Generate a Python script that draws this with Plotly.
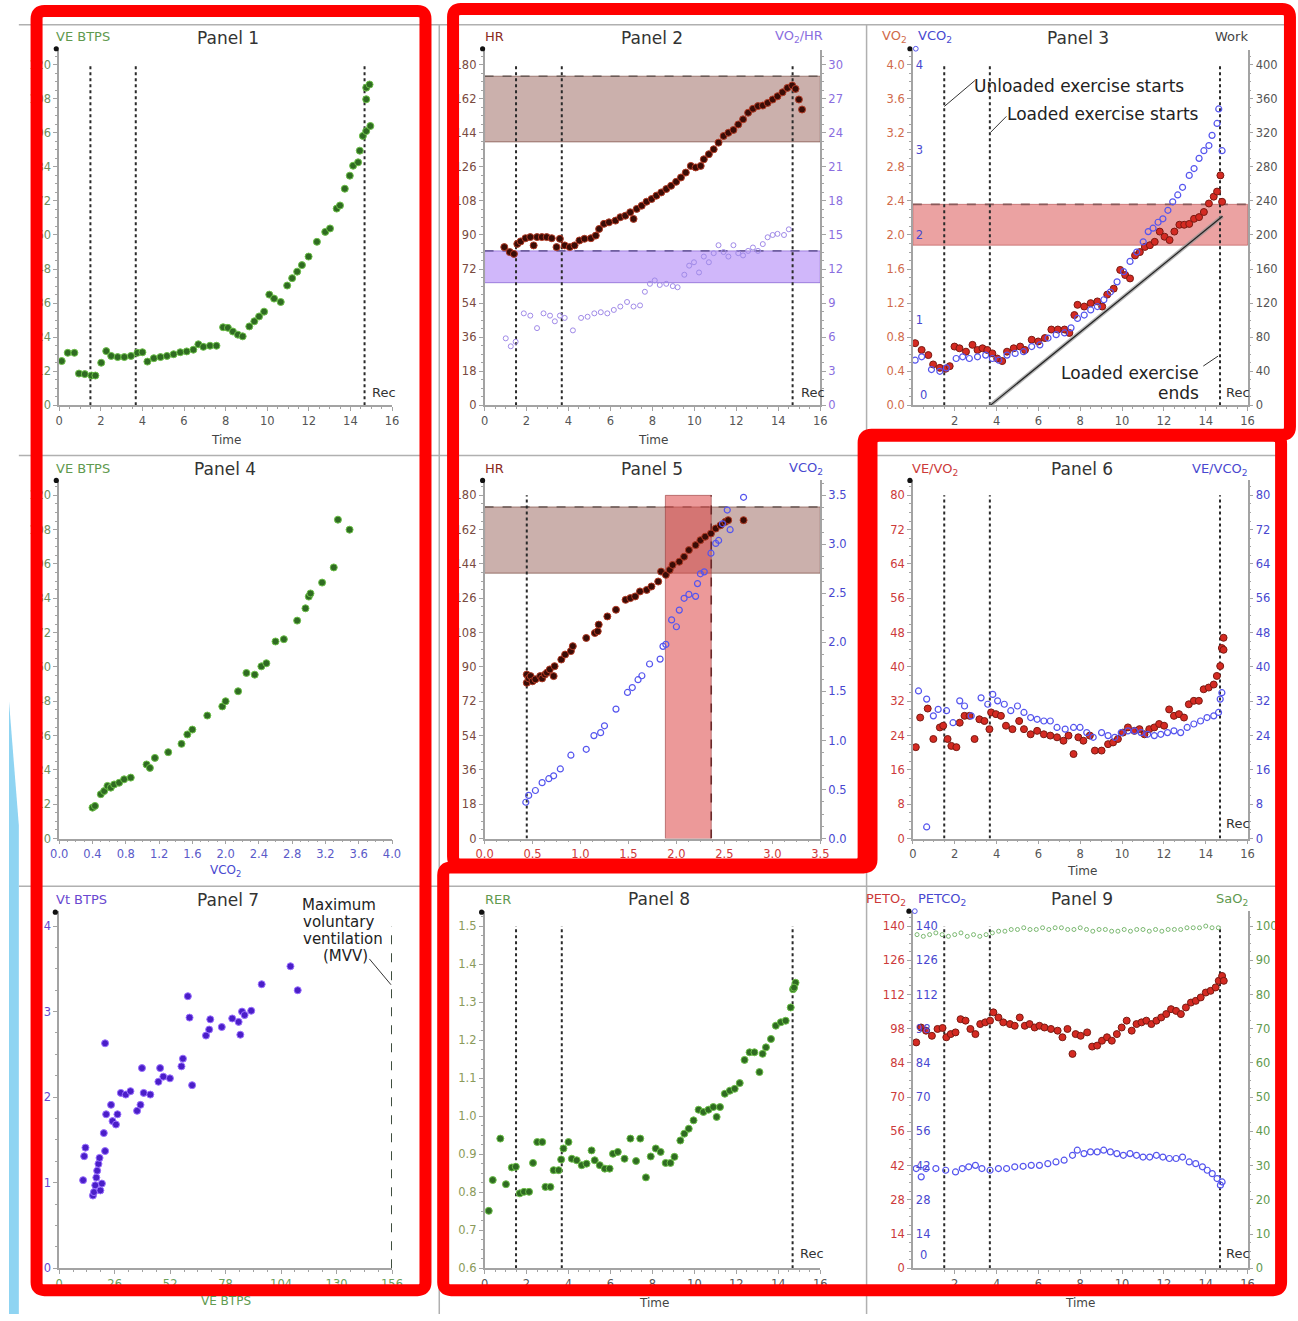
import plotly.graph_objects as go

W, H = 1298, 1321

# ---------------- data ----------------
t_ticks = [0, 2, 4, 6, 8, 10, 12, 14, 16]
ve_ticks = [0, 12, 24, 36, 48, 60, 72, 84, 96, 108, 120]
hr_ticks = [0, 18, 36, 54, 72, 90, 108, 126, 144, 162, 180]
vohr_ticks = [0, 3, 6, 9, 12, 15, 18, 21, 24, 27, 30]
vo2_ticks = [0.0, 0.4, 0.8, 1.2, 1.6, 2.0, 2.4, 2.8, 3.2, 3.6, 4.0]
vco2_int_ticks = [1, 2, 3, 4]
work_ticks = [0, 40, 80, 120, 160, 200, 240, 280, 320, 360, 400]
vco2_x_ticks = [0.0, 0.4, 0.8, 1.2, 1.6, 2.0, 2.4, 2.8, 3.2, 3.6, 4.0]
half_ticks = [0.0, 0.5, 1.0, 1.5, 2.0, 2.5, 3.0, 3.5]
ratio_ticks = [0, 8, 16, 24, 32, 40, 48, 56, 64, 72, 80]
vt_ticks = [0, 1, 2, 3, 4]
vex_ticks = [0, 26, 52, 78, 104, 130, 156]
rer_ticks = [0.6, 0.7, 0.8, 0.9, 1.0, 1.1, 1.2, 1.3, 1.4, 1.5]
pet_ticks = [0, 14, 28, 42, 56, 70, 84, 98, 112, 126, 140]
petco2_inner_ticks = [14, 28, 42, 56, 70, 84, 98, 112, 126, 140]
sao2_ticks = [0, 10, 20, 30, 40, 50, 60, 70, 80, 90, 100]

phase_times = [1.5, 3.68, 14.68]   # unloaded start, loaded start, loaded end

# Panel 1: VE vs time
p1_t = [0.12,0.41,0.73,0.95,1.23,1.55,1.74,2.02,2.26,2.5,2.81,3.13,3.45,3.76,4.0,4.24,4.55,4.87,5.18,5.5,
        5.82,6.13,6.45,6.69,6.93,7.25,7.56,7.88,8.11,8.35,8.59,8.82,9.14,9.38,9.61,9.85,10.1,10.33,10.65,10.96,
        11.2,11.44,11.67,11.99,12.39,12.79,13.02,13.34,13.5,13.73,13.97,14.13,14.37,14.45,14.6,14.76,14.96,14.76,14.76,14.92]
p1_ve = [15.6,18.5,18.5,11.2,11,10.5,10.5,15,19.1,17.4,17,17,17.4,18.5,18.7,15.4,16.6,17,17.4,18,
         18.7,19,19.6,21.5,20.6,21,21,27.5,27.3,26,24.9,24.3,27.8,29.6,31.3,33,39,37.6,36.4,42.2,
         44.8,47.1,49.4,52.4,57.6,61.1,62.3,69.3,70.4,76.3,80.9,84.4,85.6,89.7,94.9,96.6,98.4,107.8,111.9,113]

# Panel 2: HR and VO2/HR vs time
p2_t = [0.94,1.2,1.4,1.56,1.72,1.95,2.18,2.34,2.5,2.73,2.96,3.2,3.43,3.59,3.82,4.06,4.29,4.52,4.76,5.07,
        5.3,5.46,5.69,5.93,6.24,6.47,6.71,6.94,7.1,7.25,7.49,7.72,7.96,8.19,8.42,8.66,8.89,9.13,9.36,9.59,
        9.83,10.06,10.3,10.45,10.69,10.92,11.15,11.39,11.62,11.86,12.09,12.32,12.56,12.79,13.03,13.26,13.49,13.73,13.96,14.2,
        14.43,14.66,14.82,14.98,15.13]
p2_hr = [83.6,81,80,85.3,86.6,88.3,88.9,84.5,88.9,88.9,88.9,88.3,83.6,88,84.5,83.6,84.5,87.1,88,88.3,
         89.7,93.2,95.9,96.7,97.6,99.4,100.2,102,98.5,103.8,105.5,107.6,109,110.8,112.5,114.3,116,118.1,120.4,123,
         126.5,125.7,126.5,130,132.7,135.3,138.8,142.3,144,145.5,148.4,151.1,154.6,156.7,158.1,158.4,159.8,161.6,163.3,165.4,
         167.7,169,167.2,161.6,156.3]
p2_vt = [1.01,1.25,1.48,1.87,2.18,2.5,2.81,3.12,3.35,3.59,3.82,4.21,4.6,4.91,5.23,5.54,5.85,6.16,6.47,6.79,
         7.1,7.41,7.64,7.88,8.11,8.35,8.66,8.97,9.2,9.52,9.75,9.98,10.22,10.45,10.69,10.92,11.15,11.39,11.62,11.86,
         12.09,12.32,12.56,12.79,13.03,13.26,13.49,13.73,13.96,14.27,14.5]
p2_vohr = [5.9,5.2,5.6,8.1,7.9,6.8,8.1,7.9,7.4,7.9,7.7,6.6,7.7,7.8,8.1,8.2,8.1,8.4,8.7,9.1,
           8.7,8.8,10,10.7,11,10.6,10.7,10.5,10.4,11.5,12.3,12.6,11.7,13.1,12.6,13.4,14.1,13.5,13.1,14.1,
           13.4,13.2,13.6,13.9,13.6,14.2,14.8,15,15.1,15,15.5]
hr_band = [139.2, 173.9]
vohr_band = [10.8, 13.6]

# Panel 3: VO2, VCO2, Work vs time
p3_t = [0.11,0.42,0.74,0.97,1.29,1.57,1.76,1.99,2.23,2.54,2.85,3.09,3.33,3.56,3.8,4.03,4.27,4.5,4.82,5.13,
        5.36,5.68,5.99,6.31,6.62,6.93,7.25,7.48,7.72,7.87,8.19,8.5,8.82,9.05,9.29,9.6,9.91,10.15,10.38,10.62,
        10.85,11.09,11.33,11.56,11.8,12.03,12.27,12.5,12.74,12.97,13.21,13.44,13.68,13.91,14.15,14.38,14.54,14.7,14.78]
p3_vo2 = [0.73,0.65,0.59,0.48,0.44,0.43,0.46,0.69,0.67,0.63,0.71,0.65,0.67,0.65,0.61,0.55,0.52,0.63,0.67,0.69,
          0.65,0.77,0.75,0.79,0.89,0.89,0.89,0.85,1.06,1.18,1.16,1.2,1.22,1.16,1.3,1.37,1.59,1.53,1.49,1.76,
          1.8,1.86,1.88,1.92,2.04,1.98,1.94,2.04,2.12,2.12,2.13,2.19,2.21,2.27,2.37,2.45,2.51,2.7,2.39]
p3_ct = [0.11,0.42,0.89,1.29,1.6,2.07,2.38,2.7,3.09,3.48,3.8,4.11,4.5,4.89,5.29,5.68,6.07,6.46,6.85,7.25,
         7.56,7.87,8.19,8.5,8.82,9.13,9.44,9.76,10.07,10.38,10.7,11.01,11.25,11.48,11.72,11.95,12.19,12.42,12.66,12.89,
         13.21,13.44,13.68,13.91,14.15,14.3,14.54,14.62,14.78]
p3_vco2 = [0.53,0.57,0.42,0.40,0.44,0.55,0.57,0.55,0.57,0.59,0.55,0.53,0.59,0.61,0.63,0.69,0.71,0.79,0.83,0.85,
           0.91,1.02,1.06,1.12,1.16,1.24,1.33,1.45,1.57,1.69,1.8,1.92,2.04,2.08,2.15,2.19,2.29,2.39,2.47,2.56,
           2.7,2.78,2.9,2.99,3.05,3.17,3.31,3.48,2.99]
p3_work_t = [3.7, 14.8]
p3_work = [0, 222]
vo2_band = [1.88, 2.36]

# Panel 4: VE vs VCO2
p4_vco2 = [0.40,0.43,0.50,0.54,0.58,0.62,0.66,0.72,0.78,0.86,1.05,1.09,1.15,1.31,1.47,1.54,1.6,1.78,1.96,2.0,
           2.15,2.25,2.35,2.43,2.49,2.6,2.7,2.86,2.96,3.0,3.02,3.16,3.3,3.35,3.49]
p4_ve = [10.8,11.4,15.5,16.6,18.4,17.8,18.9,19.5,20.7,21.3,25.9,24.7,28.2,30.2,33.1,36.4,38.1,43,46.2,48,
         51.5,57.9,57.3,60.2,61.3,68.9,69.7,76.2,80.5,84.6,85.7,89.5,94.8,111.5,108]

# Panel 5: HR and VCO2 vs VO2
p5_vo2 = [0.44,0.44,0.46,0.48,0.5,0.53,0.58,0.6,0.63,0.65,0.68,0.72,0.73,0.80,0.84,0.9,0.92,1.06,1.15,1.18,
          1.19,1.28,1.37,1.47,1.52,1.57,1.62,1.69,1.74,1.81,1.84,1.89,1.93,1.96,2.03,2.08,2.13,2.2,2.25,2.3,
          2.36,2.41,2.46,2.51,2.54,2.7]
p5_hr = [81.7,86,84,85.2,82.5,83.5,85.2,84,86,87,88.7,85.2,90.4,93.9,96.5,98.3,100.9,105.2,107.8,108.7,
         112.2,116.5,120,125.2,126.1,127,129.6,130.4,132.2,134.8,140,138.3,140.9,143.5,145.2,147.8,151.3,153.9,156.5,158.3,
         160,162.6,164.3,166.1,167,167]
p5_cvo2 = [0.43,0.46,0.53,0.6,0.67,0.72,0.79,0.9,1.06,1.14,1.21,1.25,1.37,1.49,1.54,1.6,1.64,1.72,1.83,1.86,
           1.89,1.95,2.0,2.03,2.08,2.13,2.2,2.22,2.25,2.29,2.36,2.41,2.44,2.48,2.53,2.56,2.7]
p5_vco2 = [0.37,0.44,0.49,0.57,0.61,0.64,0.71,0.85,0.91,1.05,1.08,1.15,1.32,1.49,1.54,1.62,1.66,1.78,1.83,1.96,
           1.98,2.23,2.16,2.33,2.45,2.49,2.47,2.6,2.7,2.72,2.91,3.01,3.04,3.21,3.35,3.15,3.48]
p5_vo2_band = [1.885, 2.363]
p5_start_vo2 = [0.44]

# Panel 6: VE/VO2 and VE/VCO2 vs time
p6_t = [0.14,0.35,0.71,0.98,1.29,1.45,1.66,1.84,2.08,2.24,2.47,2.71,2.95,3.18,3.42,3.66,3.74,3.97,4.21,4.45,
        4.76,5.08,5.31,5.63,5.94,6.26,6.57,6.89,7.2,7.44,7.68,7.91,8.15,8.46,8.7,9.02,9.33,9.57,9.8,10.04,
        10.28,10.59,10.83,11.07,11.3,11.54,11.77,12.01,12.25,12.48,12.72,12.96,13.19,13.43,13.67,13.9,14.14,14.38,14.53,14.69,
        14.77,14.85,14.85]
p6_vevo2 = [21.3,28.2,30.3,23.2,25.9,26.3,23.2,21.6,21.3,27,28.6,28.6,23.2,27.8,27.4,25.5,29.4,29,28.6,26.3,
            25.5,27.4,25.5,24.3,25.1,24.3,24,23.6,22.8,24,19.7,23.6,22.8,24,20.5,20.5,22,22.4,23.2,24.7,
            25.9,25.1,25.5,24.3,25.5,25.9,26.7,26.3,30.1,28.6,29,28.2,31.3,32.1,32.1,34.8,35.2,35.9,37.9,40.2,
            44.4,46.8,44]
p6_ct = [0.27,0.66,0.66,0.98,1.21,1.61,1.92,2.24,2.47,2.79,3.26,3.58,3.82,4.05,4.37,4.68,5.0,5.31,5.63,5.94,
         6.26,6.57,6.89,7.28,7.68,7.99,8.31,8.62,9.02,9.33,9.65,9.96,10.28,10.59,10.91,11.22,11.54,11.85,12.17,12.48,
         12.8,13.11,13.43,13.75,14.06,14.38,14.61,14.69,14.77]
p6_vevco2 = [34.4,32.5,2.7,28.6,30.1,29.8,27,32.1,30.9,28.6,32.8,31.3,33.6,32.1,31.3,29.8,30.9,29.4,28.2,27.8,
             27.4,27.4,25.9,25.5,25.9,25.9,24.7,23.6,24.7,24,23.6,24.7,25.1,25.1,24.7,24.3,24,24.3,24.7,25.1,
             24.7,25.9,26.7,27.4,28.2,28.6,29.4,32.5,34]

# Panel 7: Vt vs VE
p7_ve = [11.2,11.7,12.3,15.8,16.3,16.9,17.4,17.8,18.4,18.9,19.3,20.0,20.9,21.5,21.5,22.0,24.3,25.0,26.6,27.3,
         28.9,31.2,33.4,36.5,38.1,38.8,39.6,42.7,46.5,47.3,48.8,51.9,57.3,58.0,60.3,61.1,62.3,68.8,70.3,70.8,
         76.2,81.1,84.1,84.9,85.7,86.9,90.0,94.9,108.4,111.8]
p7_vt = [1.03,1.31,1.41,0.85,0.89,0.97,1.06,1.14,1.22,1.29,0.91,0.99,1.58,1.37,2.63,1.80,1.91,1.72,1.68,1.80,
         2.05,2.03,2.07,1.84,1.91,2.34,2.05,2.03,2.18,2.34,2.24,2.22,2.36,2.45,3.18,2.93,2.14,2.72,2.79,2.91,
         2.82,2.92,2.88,2.73,3.0,2.96,3.01,3.32,3.53,3.25]
mvv = [156]
mvv_top = [4.0]

# Panel 8: RER vs time
p8_t = [0.2,0.39,0.75,1.02,1.3,1.49,1.68,1.88,2.12,2.31,2.51,2.75,2.9,3.14,3.29,3.53,3.65,3.76,4.0,4.16,
        4.39,4.63,4.86,5.1,5.25,5.49,5.73,5.96,6.12,6.35,6.67,6.95,7.22,7.42,7.69,7.92,8.16,8.39,8.63,8.86,
        9.05,9.33,9.52,9.73,9.96,10.2,10.43,10.67,10.9,11.06,11.22,11.45,11.69,11.92,12.16,12.39,12.63,12.86,13.1,13.25,
        13.41,13.65,13.88,14.12,14.35,14.59,14.7,14.82,14.75]
p8_rer = [0.751,0.832,0.941,0.821,0.865,0.867,0.797,0.801,0.801,0.877,0.932,0.932,0.814,0.814,0.858,0.858,0.886,0.915,0.932,0.888,
          0.884,0.871,0.875,0.91,0.884,0.871,0.862,0.862,0.901,0.906,0.888,0.941,0.882,0.941,0.839,0.894,0.915,0.906,0.877,0.877,
          0.893,0.936,0.954,0.967,0.989,1.017,1.011,1.017,1.024,0.998,1.024,1.059,1.067,1.072,1.087,1.148,1.168,1.168,1.116,1.164,
          1.181,1.203,1.238,1.247,1.251,1.286,1.334,1.351,1.338]

# Panel 9: PETO2, PETCO2, SaO2 vs time
p9_t = [0.16,0.39,0.63,0.91,1.18,1.42,1.6,1.81,2.04,2.28,2.52,2.75,2.99,3.22,3.46,3.69,3.85,4.09,4.32,4.64,
        4.87,5.11,5.35,5.58,5.82,6.05,6.29,6.6,6.92,7.15,7.39,7.63,7.78,8.02,8.33,8.57,8.81,9.04,9.28,9.51,
        9.75,9.98,10.22,10.46,10.69,10.93,11.16,11.4,11.64,11.87,12.11,12.34,12.58,12.81,13.05,13.29,13.52,13.76,14.0,14.23,
        14.47,14.62,14.78,14.86]
p9_peto2 = [92.4,98.5,97.2,95.1,97.9,98.3,94.5,95.8,96.5,101.9,101.3,97.9,95.8,99.9,100.6,101.3,104.7,102.6,100.6,99.9,
            99.2,102.6,99.2,99.9,98.5,99.2,98.5,97.9,97.2,94.5,97.9,87.7,95.8,95.1,96.5,90.7,91.1,93.1,94.5,93.1,
            95.8,98.5,101.3,97.2,99.9,100.6,101.3,99.9,101.3,102.6,104,106,105.3,104,106.7,108.7,109.4,110.8,112.8,113.5,
            114.9,117.6,119.6,117.6]
p9_ct = [0.16,0.4,0.63,1.1,1.57,2.04,2.36,2.67,2.99,3.3,3.69,4.09,4.48,4.87,5.27,5.66,6.05,6.45,6.84,7.23,
         7.63,7.86,8.18,8.49,8.81,9.12,9.44,9.75,10.06,10.38,10.69,11.0,11.32,11.64,11.95,12.26,12.58,12.89,13.21,13.52,
         13.84,14.07,14.31,14.54,14.7,14.78]
p9_petco2 = [40.8,37.4,40.8,40.8,40.1,39.4,40.8,41.5,42.1,40.8,40.1,40.8,40.8,41.5,41.7,42.1,42.1,42.8,43.5,44.2,
             46.2,48.3,46.9,47.6,47.6,48.3,47.6,46.9,46.2,46.9,46.2,45.5,45.5,46.2,45.5,44.9,44.9,45.5,43.5,42.8,
             41.5,40.1,38.7,36.7,34,35.3]
p9_st = [0.2,0.5,0.8,1.1,1.4,1.7,2.0,2.3,2.6,2.9,3.2,3.5,3.8,4.1,4.4,4.7,5.0,5.3,5.6,5.9,
         6.2,6.5,6.8,7.1,7.4,7.7,8.0,8.3,8.6,8.9,9.2,9.5,9.8,10.1,10.4,10.7,11.0,11.3,11.6,11.9,
         12.2,12.5,12.8,13.1,13.4,13.7,14.0,14.3,14.6]
p9_sao2 = [97.5,97.0,97.5,98.0,97.5,97.0,97.5,98.0,97.0,97.5,97.0,97.5,98.0,98.5,98.5,99.0,99.0,99.5,99.0,99.0,
           99.5,99.0,99.5,99.5,99.0,99.0,99.5,99.0,98.5,99.0,99.0,98.5,98.5,99.0,98.5,99.0,99.0,98.5,99.0,98.5,
           99.0,99.0,99.0,99.5,99.5,99.5,100.0,99.5,99.5]

# ---------------- geometry / style ----------------
def fx(px): return px / W
def fy(py): return 1 - py / H

COLS = [(51, 389), (483, 824), (918, 1258)]
ROWS = [(65, 407.5), (498, 843), (931, 1275)]
EXT = 15
AXC = '#a3a3a3'
FONT = 'DejaVu Sans'

GREEN_T = '#5f9a4f'
GREEN_TICK = '#6f8f5f'
HR_C = '#8a2a1c'
HR_TICK = '#7a4a40'
PURP = '#8a6ee0'
ORANGE = '#d06a4a'
BLUE = '#4848d0'
RED = '#cc3a3a'
VT_C = '#6a48d0'
GREY_TICK = '#555555'


def ydom(r):
    t, b = ROWS[r]
    return [fy(b), fy(t - EXT)]


def yr(r, lo, hi):
    t, b = ROWS[r]
    return [lo, hi + (hi - lo) * EXT / (b - t)]


def tk(vals, fmt):
    return dict(tickmode='array', tickvals=vals, ticktext=[fmt.format(v) for v in vals])


BASE = dict(showline=True, linecolor=AXC, linewidth=1.5, showgrid=False, zeroline=False,
            ticks='outside', ticklen=4, tickwidth=1.2, tickcolor=AXC)


def xax(col, lo, hi, vals, fmt, color, mdt, anchor):
    c0, c1 = COLS[col]
    d = dict(BASE)
    d.update(tk(vals, fmt))
    d.update(domain=[fx(c0), fx(c1)], range=[lo, hi], anchor=anchor,
             tickfont=dict(color=color, size=11.5, family=FONT),
             minor=dict(ticks='outside', ticklen=2, tickcolor=AXC, tick0=lo, dtick=mdt))
    return d


def yax(row, lo, hi, vals, fmt, color, mdt, anchor, side='left', overlaying=None, inside=False):
    d = dict(BASE)
    d.update(tk(vals, fmt))
    d.update(range=yr(row, lo, hi), anchor=anchor, side=side,
             tickfont=dict(color=color, size=11.5, family=FONT))
    if overlaying:
        d['overlaying'] = overlaying
    else:
        d['domain'] = ydom(row)
    if inside:
        d.update(ticklabelposition='inside', ticks='', showline=False)
    else:
        d['minor'] = dict(ticks='outside', ticklen=2, tickcolor=AXC, tick0=lo, dtick=mdt)
    return d


layout = dict(
    width=W, height=H, autosize=False, margin=dict(l=0, r=0, t=0, b=0, pad=0),
    paper_bgcolor='white', plot_bgcolor='rgba(0,0,0,0)', showlegend=False,
    font=dict(family=FONT, size=12, color='#333'),
    xaxis=xax(0, 0, 16, t_ticks, '{}', GREY_TICK, 0.5, 'y'),
    yaxis=yax(0, 0, 120, ve_ticks, '{}', GREEN_TICK, 3, 'x'),
    xaxis2=xax(1, 0, 16, t_ticks, '{}', GREY_TICK, 0.5, 'y2'),
    yaxis2=yax(0, 0, 180, hr_ticks, '{}', HR_TICK, 4.5, 'x2'),
    yaxis3=yax(0, 0, 30, vohr_ticks, '{}', PURP, 0.75, 'x2', side='right', overlaying='y2'),
    xaxis3=xax(2, 0, 16, t_ticks, '{}', GREY_TICK, 0.5, 'y4'),
    yaxis4=yax(0, 0, 4, vo2_ticks, '{:.1f}', ORANGE, 0.1, 'x3'),
    yaxis5=yax(0, 0, 4, vco2_int_ticks, '{}', BLUE, 0.25, 'x3', overlaying='y4', inside=True),
    yaxis6=yax(0, 0, 400, work_ticks, '{}', '#555', 10, 'x3', side='right', overlaying='y4'),
    xaxis4=xax(0, 0, 4, vco2_x_ticks, '{:.1f}', '#5a5ac8', 0.1, 'y7'),
    yaxis7=yax(1, 0, 120, ve_ticks, '{}', GREEN_TICK, 3, 'x4'),
    xaxis5=xax(1, 0, 3.5, half_ticks, '{:.1f}', RED, 0.125, 'y8'),
    yaxis8=yax(1, 0, 180, hr_ticks, '{}', HR_TICK, 4.5, 'x5'),
    yaxis9=yax(1, 0, 3.5, half_ticks, '{:.1f}', BLUE, 0.125, 'x5', side='right', overlaying='y8'),
    xaxis6=xax(2, 0, 16, t_ticks, '{}', GREY_TICK, 0.5, 'y10'),
    yaxis10=yax(1, 0, 80, ratio_ticks, '{}', RED, 2, 'x6'),
    yaxis11=yax(1, 0, 80, ratio_ticks, '{}', BLUE, 2, 'x6', side='right', overlaying='y10'),
    xaxis7=xax(0, 0, 156, vex_ticks, '{}', '#6aa05a', 6.5, 'y12'),
    yaxis12=yax(2, 0, 4, vt_ticks, '{}', VT_C, 0.25, 'x7'),
    xaxis8=xax(1, 0, 16, t_ticks, '{}', GREY_TICK, 0.5, 'y13'),
    yaxis13=yax(2, 0.6, 1.5, rer_ticks, '{:.1f}', '#8a9a5a', 0.025, 'x8'),
    xaxis9=xax(2, 0, 16, t_ticks, '{}', GREY_TICK, 0.5, 'y14'),
    yaxis14=yax(2, 0, 140, pet_ticks, '{}', RED, 3.5, 'x9'),
    yaxis15=yax(2, 0, 140, petco2_inner_ticks, '{}', BLUE, 3.5, 'x9', overlaying='y14', inside=True),
    yaxis16=yax(2, 0, 100, sao2_ticks, '{}', '#5f9a4f', 2.5, 'x9', side='right', overlaying='y14'),
)

# ---------------- traces ----------------
GREEN_M = dict(size=7, color='#2f6b22', line=dict(color='#6cc048', width=1))
HR_M = dict(size=7, color='#3a0c06', line=dict(color='#b23a24', width=1))
RED_M = dict(size=7, color='#d42a22', line=dict(color='#7a1a12', width=1))
BLUE_O = dict(size=6, symbol='circle-open', color='#5555ee', line=dict(width=1.2))
PURP_O = dict(size=5, symbol='circle-open', color='#a08ae8', line=dict(width=1))
VT_M = dict(size=7, color='#4a1ec8', line=dict(color='#9a70ff', width=1))
SAO_O = dict(size=4, symbol='circle-open', color='#7ab870', line=dict(width=1))


def mk(x, y, xa, ya, marker):
    return go.Scatter(x=x, y=y, xaxis=xa, yaxis=ya, mode='markers', marker=marker,
                      hoverinfo='skip', cliponaxis=False)


traces = [
    mk(p1_t, p1_ve, 'x', 'y', GREEN_M),
    mk(p2_vt, p2_vohr, 'x2', 'y3', PURP_O),
    mk(p2_t, p2_hr, 'x2', 'y2', HR_M),
    go.Scatter(x=p3_work_t, y=p3_work, xaxis='x3', yaxis='y6', mode='lines',
               line=dict(color='rgba(150,150,150,0.7)', width=4), hoverinfo='skip'),
    go.Scatter(x=p3_work_t, y=p3_work, xaxis='x3', yaxis='y6', mode='lines',
               line=dict(color='#222', width=1.2), hoverinfo='skip'),
    mk(p3_ct, p3_vco2, 'x3', 'y5', BLUE_O),
    mk(p3_t, p3_vo2, 'x3', 'y4', RED_M),
    mk(p4_vco2, p4_ve, 'x4', 'y7', GREEN_M),
    mk(p5_cvo2, p5_vco2, 'x5', 'y9', BLUE_O),
    mk(p5_vo2, p5_hr, 'x5', 'y8', HR_M),
    mk(p6_ct, p6_vevco2, 'x6', 'y11', BLUE_O),
    mk(p6_t, p6_vevo2, 'x6', 'y10', RED_M),
    mk(p7_ve, p7_vt, 'x7', 'y12', VT_M),
    mk(p8_t, p8_rer, 'x8', 'y13', GREEN_M),
    mk(p9_st, p9_sao2, 'x9', 'y16', SAO_O),
    mk(p9_ct, p9_petco2, 'x9', 'y15', BLUE_O),
    mk(p9_t, p9_peto2, 'x9', 'y14', RED_M),
]

# ---------------- shapes ----------------
shapes = []


def pline(x0, y0, x1, y1, color='#b0b0b0', width=1.5, layer='below'):
    shapes.append(dict(type='line', xref='paper', yref='paper', x0=fx(x0), y0=fy(y0),
                       x1=fx(x1), y1=fy(y1), line=dict(color=color, width=width), layer=layer))


def rounded_path(pts, r):
    def towards(a, b, d):
        dx, dy = b[0] - a[0], b[1] - a[1]
        L = (dx * dx + dy * dy) ** 0.5
        return (a[0] + dx / L * d, a[1] + dy / L * d)
    n = len(pts)
    parts = []
    for i in range(n):
        p0, p1, p2 = pts[i - 1], pts[i], pts[(i + 1) % n]
        parts.append((towards(p1, p0, r), p1, towards(p1, p2, r)))
    P = lambda p: f'{fx(p[0])},{fy(p[1])}'
    s = f'M {P(parts[0][0])} Q {P(parts[0][1])} {P(parts[0][2])}'
    for a, c, b in parts[1:]:
        s += f' L {P(a)} Q {P(c)} {P(b)}'
    s += f' L {P(parts[0][0])} Z'
    return s


# panel dividers
pline(10, 25, 1298, 25)
pline(10, 458, 1298, 458)
pline(10, 891, 1298, 891)
pline(437, 25, 437, 1321)
pline(871, 25, 871, 1321)


def hband(xa, ya, lo, hi, fill, edge, dashc):
    shapes.append(dict(type='rect', xref=xa + ' domain', yref=ya, x0=0, x1=1, y0=lo, y1=hi,
                       fillcolor=fill, line=dict(color=edge, width=1), layer='below'))
    shapes.append(dict(type='line', xref=xa + ' domain', yref=ya, x0=0, x1=1, y0=hi, y1=hi,
                       line=dict(color=dashc, width=1.6, dash='dash'), layer='below'))


hband('x2', 'y2', hr_band[0], hr_band[1], 'rgba(140,80,70,0.45)', 'rgba(110,60,50,0.6)', '#6a5a56')
hband('x2', 'y3', vohr_band[0], vohr_band[1], 'rgba(150,95,245,0.45)', 'rgba(110,70,200,0.6)', '#7060a0')
hband('x3', 'y4', vo2_band[0], vo2_band[1], 'rgba(215,70,70,0.5)', 'rgba(170,60,60,0.5)', '#8a5a5a')
hband('x5', 'y8', hr_band[0], hr_band[1], 'rgba(140,80,70,0.45)', 'rgba(110,60,50,0.6)', '#6a5a56')
shapes.append(dict(type='rect', xref='x5', yref='y8', x0=p5_vo2_band[0], x1=p5_vo2_band[1], y0=0, y1=180,
                   fillcolor='rgba(220,70,70,0.55)', line=dict(color='rgba(150,60,60,0.6)', width=1), layer='below'))
shapes.append(dict(type='line', xref='x5', yref='y8', x0=p5_vo2_band[1], x1=p5_vo2_band[1], y0=0, y1=180,
                   line=dict(color='#6a2a2a', width=1.6, dash='dash'), layer='below'))

# phase lines
for xa, ya, top in [('x', 'y', 120), ('x2', 'y2', 180), ('x3', 'y4', 4), ('x6', 'y10', 80),
                    ('x8', 'y13', 1.5), ('x9', 'y14', 140)]:
    lo = 0.6 if ya == 'y13' else 0
    for tt in phase_times:
        shapes.append(dict(type='line', xref=xa, yref=ya, x0=tt, x1=tt, y0=lo, y1=top,
                           line=dict(color='#2a2a2a', width=2, dash='dot'), layer='below'))
shapes.append(dict(type='line', xref='x5', yref='y8', x0=p5_start_vo2[0], x1=p5_start_vo2[0], y0=0, y1=180,
                   line=dict(color='#2a2a2a', width=2, dash='dot'), layer='below'))
# MVV
shapes.append(dict(type='line', xref='x7', yref='y12', x0=mvv[0], x1=mvv[0], y0=0, y1=mvv_top[0],
                   line=dict(color='#2a3a2a', width=1.8, dash='dash'), layer='below'))

# leader lines
pline(981, 81, 950, 107, color='#333', width=1, layer='above')
pline(1013, 117, 997, 133, color='#333', width=1, layer='above')
pline(1213, 368, 1228, 358, color='#333', width=1, layer='above')
pline(366, 964, 388, 990, color='#333', width=1, layer='above')

# axis-top dots
for (dx, dy) in [(48, 49), (481, 49), (915, 49), (48, 483), (481, 483), (915, 483),
                 (47, 917), (480, 917), (914, 916)]:
    r = 2.6
    shapes.append(dict(type='circle', xref='paper', yref='paper', x0=fx(dx - r), x1=fx(dx + r),
                       y0=fy(dy + r), y1=fy(dy - r), fillcolor='#111', line=dict(color='#111', width=0),
                       layer='above'))
for (dx, dy) in [(921, 49), (920, 916)]:
    r = 2.4
    shapes.append(dict(type='circle', xref='paper', yref='paper', x0=fx(dx - r), x1=fx(dx + r),
                       y0=fy(dy + r), y1=fy(dy - r), fillcolor='white', line=dict(color='#5555ee', width=1),
                       layer='above'))

# light blue sliver on the far left
shapes.append(dict(type='path', xref='paper', yref='paper',
                   path=f'M {fx(0)},{fy(705)} L {fx(10)},{fy(830)} L {fx(10)},{fy(1321)} L {fx(0)},{fy(1321)} Z',
                   fillcolor='#8fd4f2', line=dict(width=0), layer='above'))

# red highlight outlines (rounded corners)
RED_LINE = dict(color='#ff0000', width=12)
shapes.append(dict(type='path', xref='paper', yref='paper',
                   path=rounded_path([(28, 11), (423, 11), (423, 1297), (28, 1297)], 8),
                   line=RED_LINE, layer='above'))
shapes.append(dict(type='path', xref='paper', yref='paper',
                   path=rounded_path([(451, 9), (1301, 9), (1301, 437), (868, 437), (868, 869), (451, 869)], 8),
                   line=RED_LINE, layer='above'))
shapes.append(dict(type='path', xref='paper', yref='paper',
                   path=rounded_path([(876, 438), (1292, 438), (1292, 1297), (441, 1297), (441, 872), (876, 872)], 8),
                   line=RED_LINE, layer='above'))

layout['shapes'] = shapes

# ---------------- annotations ----------------
anns = []


def ann(text, x, y, size=13, color='#333', xanchor='center'):
    anns.append(dict(text=text, xref='paper', yref='paper', x=fx(x), y=fy(y), xanchor=xanchor,
                     yanchor='middle', showarrow=False, font=dict(size=size, color=color, family=FONT)))


for txt, x, y in [("Panel 1", 222, 38), ("Panel 2", 653, 38), ("Panel 3", 1086, 38),
                  ("Panel 4", 219, 472), ("Panel 5", 653, 472), ("Panel 6", 1090, 472),
                  ("Panel 7", 222, 905), ("Panel 8", 660, 904), ("Panel 9", 1090, 904)]:
    ann(txt, x, y, size=17, color='#333')

ann("VE BTPS", 46, 37, color=GREEN_T, xanchor='left')
ann("HR", 481, 37, color=HR_C, xanchor='left')
ann("VO<sub>2</sub>/HR", 829, 37, color=PURP, xanchor='right')
ann("VO<sub>2</sub>", 885, 37, color=ORANGE, xanchor='left')
ann("VCO<sub>2</sub>", 921, 37, color=BLUE, xanchor='left')
ann("Work", 1260, 37, color='#444', xanchor='right')
ann("VE BTPS", 46, 471, color=GREEN_T, xanchor='left')
ann("HR", 481, 471, color=HR_C, xanchor='left')
ann("VCO<sub>2</sub>", 829, 471, color=BLUE, xanchor='right')
ann("VE/VO<sub>2</sub>", 915, 472, color=RED, xanchor='left')
ann("VE/VCO<sub>2</sub>", 1260, 472, color=BLUE, xanchor='right')
ann("Vt BTPS", 46, 904, color=VT_C, xanchor='left')
ann("RER", 481, 904, color=GREEN_T, xanchor='left')
ann("PETO<sub>2</sub>", 913, 904, color=RED, xanchor='right')
ann("PETCO<sub>2</sub>", 921, 904, color=BLUE, xanchor='left')
ann("SaO<sub>2</sub>", 1260, 904, color=GREEN_T, xanchor='right')

# zero labels of the inner (inside-labelled) axes
ann("0", 923, 397, size=11.5, color=BLUE, xanchor='left')
ann("0", 923, 1262, size=11.5, color=BLUE, xanchor='left')

ann("Time", 220, 442, size=12, color='#444')
ann("Time", 654, 442, size=12, color='#444')
ann("VCO<sub>2</sub>", 220, 876, size=12, color=BLUE)
ann("Time", 1090, 876, size=12, color='#444')
ann("VE BTPS", 220, 1308, size=12, color=GREEN_T)
ann("Time", 655, 1310, size=12, color='#444')
ann("Time", 1088, 1310, size=12, color='#444')

for x, y in [(367, 395), (802, 395), (1234, 395), (1234, 828), (801, 1260), (1234, 1260)]:
    ann("Rec", x, y, size=13, color='#333', xanchor='left')

ann("Unloaded exercise starts", 978, 86, size=17, color='#222', xanchor='left')
ann("Loaded exercise starts", 1012, 115, size=17, color='#222', xanchor='left')
ann("Loaded exercise", 1211, 375, size=17, color='#222', xanchor='right')
ann("ends", 1211, 395, size=17, color='#222', xanchor='right')

ann("Maximum", 335, 910, size=15, color='#222')
ann("voluntary", 335, 927, size=15, color='#222')
ann("ventilation", 339, 944, size=15, color='#222')
ann("(MVV)", 342, 961, size=15, color='#222')

layout['annotations'] = anns

fig = go.Figure(data=traces, layout=layout)
fig.write_html(
    "out.html",
    config={'displayModeBar': False},
    post_script=("document.body.style.margin='0';document.body.style.padding='0';"
                 "document.documentElement.style.overflow='hidden';document.body.style.overflow='hidden';"),
)
